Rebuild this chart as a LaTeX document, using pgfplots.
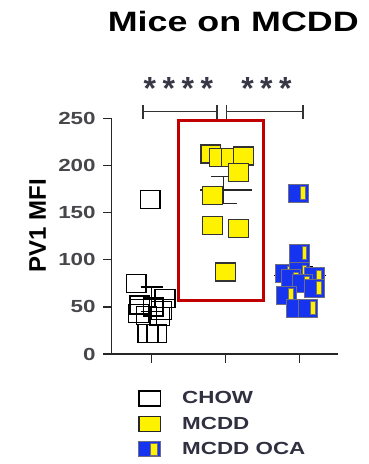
\documentclass[border=0pt]{standalone}
\usepackage{pgfplots}
\pgfplotsset{compat=1.18}
\usepackage{fontspec}
\setmainfont{Liberation Sans}
\newfontfamily\stretchsans[FakeStretch=1.28]{Liberation Sans}
\definecolor{myyellow}{RGB}{255,242,0}
\definecolor{ocablue}{RGB}{22,52,240}
\definecolor{ocaedge}{RGB}{110,110,130}
\definecolor{tickgray}{RGB}{70,70,75}
\definecolor{legtext}{RGB}{48,48,64}
\definecolor{boxred}{RGB}{192,0,0}
\definecolor{startxt}{RGB}{55,55,70}
\pgfdeclareplotmark{oca}{%
  \pgfsetstrokecolor{ocaedge}%
  \pgfsetfillcolor{ocablue}%
  \pgfpathrectangle{\pgfqpoint{-\pgfplotmarksize}{-\pgfplotmarksize}}{\pgfqpoint{2\pgfplotmarksize}{2\pgfplotmarksize}}%
  \pgfusepathqfillstroke
  \pgfsetfillcolor{myyellow}%
  \pgfpathrectangle{\pgfqpoint{0.22\pgfplotmarksize}{-0.72\pgfplotmarksize}}{\pgfqpoint{0.5\pgfplotmarksize}{1.44\pgfplotmarksize}}%
  \pgfusepathqfillstroke
}
\newcommand{\sk}{\hspace{6.5pt}}
\begin{document}
\begin{tikzpicture}
\useasboundingbox (0,0) rectangle (368pt,464pt);
\node[anchor=base, font=\stretchsans\bfseries\fontsize{28}{28}\selectfont] at (233.3pt,432.3pt) {Mice on MCDD};
\node[rotate=90, font=\bfseries\fontsize{24}{24}\selectfont] at (37.7pt,238.2pt) {PV1 MFI};
\begin{axis}[
  at={(111.7pt,110pt)}, anchor=south west,
  width=226.6pt, height=235.7pt, scale only axis,
  xmin=-0.54, xmax=2.52, ymin=0, ymax=250,
  axis x line=bottom, axis y line=left,
  axis line style={-, line width=1.4pt, black!85},
  xtick={0,1,2}, xticklabels={}, ytick={0,50,100,150,200,250},
  tick align=outside, major tick length=8.5pt,
  tick style={line width=1.4pt, black!85},
  /pgf/number format/assume math mode=true,
  yticklabel style={font=\stretchsans\bfseries\fontsize{17.5}{17.5}\selectfont, text=tickgray, xshift=-4pt},
  clip=false,
  legend style={at={(0.117,-0.153)}, anchor=north west, draw=none, fill=none,
    inner sep=0pt, outer sep=0pt, row sep=9pt,
    font=\stretchsans\bfseries\fontsize{17.5}{17.5}\selectfont, text=legtext,
    nodes={inner sep=0pt},
    /tikz/every odd column/.append style={column sep=21pt}},
  legend cell align=left,
]
% CHOW
\addplot[only marks, mark=square, mark size=9pt,
  mark options={draw=black, line width=1.3pt, fill=none, xscale=1.1},
  legend image code/.code={\draw[black, line width=1.5pt] (0pt,-7.5pt) rectangle (21.5pt,7.5pt);}]
  coordinates {(-0.02,164) (-0.21,75) (0.18,59) (-0.16,52) (0.02,50) (0.13,46.5)
   (-0.18,43) (-0.07,41) (0.11,39.5) (-0.05,22) (0.07,22)};
\addlegendentry{CHOW}
% MCDD
\addplot[only marks, mark=square*, mark size=9pt,
  mark options={draw=black!80, line width=1.3pt, fill=myyellow, xscale=1.1},
  legend image code/.code={\draw[black!85, line width=1.5pt, fill=myyellow] (0pt,-7.5pt) rectangle (21.5pt,7.5pt);}]
  coordinates {(0.8,212) (0.91,208.5) (1.08,208.5) (1.24,210) (1.17,192.5)
   (0.82,168) (0.82,136.5) (1.17,133) (1.0,87)};
\addlegendentry{MCDD}
% MCDD OCA
\addplot[only marks, mark=oca, mark size=9pt,
  mark options={line width=0.9pt, xscale=1.1},
  legend image code/.code={\draw[ocaedge, line width=1pt, fill=ocablue] (0pt,-7.5pt) rectangle (21.5pt,7.5pt);
    \draw[ocaedge, line width=0.6pt, fill=myyellow] (11.5pt,-6pt) rectangle (18pt,6pt);}]
  coordinates {(1.98,170.4) (2.0,106.8) (1.8,85.6) (2.0,87.3) (2.2,82) (1.88,80)
   (2.04,75) (2.2,69.7) (1.82,62.6) (1.95,48.5) (2.11,48.5)};
\addlegendentry{MCDD OCA}
% mean and SEM lines
\addplot[forget plot, black, line width=1.4pt] coordinates {(-0.3,58) (0.3,58)};
\addplot[forget plot, black, line width=1.4pt] coordinates {(0,45) (0,71)};
\addplot[forget plot, black, line width=1.4pt] coordinates {(-0.15,71) (0.15,71)};
\addplot[forget plot, black, line width=1.4pt] coordinates {(-0.15,45) (0.15,45)};
\addplot[forget plot, black!85, line width=1.4pt] coordinates {(0.65,174) (1.35,174)};
\addplot[forget plot, black!85, line width=1.4pt] coordinates {(0.97,159.5) (0.97,188.5)};
\addplot[forget plot, black!85, line width=1.4pt] coordinates {(0.8,188.5) (1.15,188.5)};
\addplot[forget plot, black!85, line width=1.4pt] coordinates {(0.8,159.5) (1.15,159.5)};
\addplot[forget plot, black, line width=1.4pt] coordinates {(1.65,83) (2.35,83)};
\addplot[forget plot, black, line width=1.4pt] coordinates {(2,73.5) (2,92.5)};
\addplot[forget plot, black, line width=1.4pt] coordinates {(1.82,92.5) (2.18,92.5)};
\addplot[forget plot, black, line width=1.4pt] coordinates {(1.82,73.5) (2.18,73.5)};
% red highlight box
\draw[boxred, line width=3pt] (axis cs:0.36,56.5) rectangle (axis cs:1.51,248);
% significance brackets
\draw[black!80, line width=1.5pt] (axis cs:-0.12,257) -- (axis cs:0.88,257);
\draw[black!80, line width=1.5pt] (axis cs:-0.12,249.5) -- (axis cs:-0.12,264.5);
\draw[black!80, line width=1.5pt] (axis cs:0.88,249.5) -- (axis cs:0.88,264.5);
\draw[black!80, line width=1.5pt] (axis cs:1.01,257) -- (axis cs:2.04,257);
\draw[black!80, line width=1.5pt] (axis cs:1.01,249.5) -- (axis cs:1.01,264.5);
\draw[black!80, line width=1.5pt] (axis cs:2.04,249.5) -- (axis cs:2.04,264.5);
\node[anchor=base, text=startxt, font=\bfseries\fontsize{32}{32}\selectfont] at (axis cs:0.36,269.7) {*\sk*\sk*\sk*};
\node[anchor=base, text=startxt, font=\bfseries\fontsize{32}{32}\selectfont] at (axis cs:1.55,269.7) {*\sk*\sk*};
\end{axis}
\end{tikzpicture}
\end{document}
